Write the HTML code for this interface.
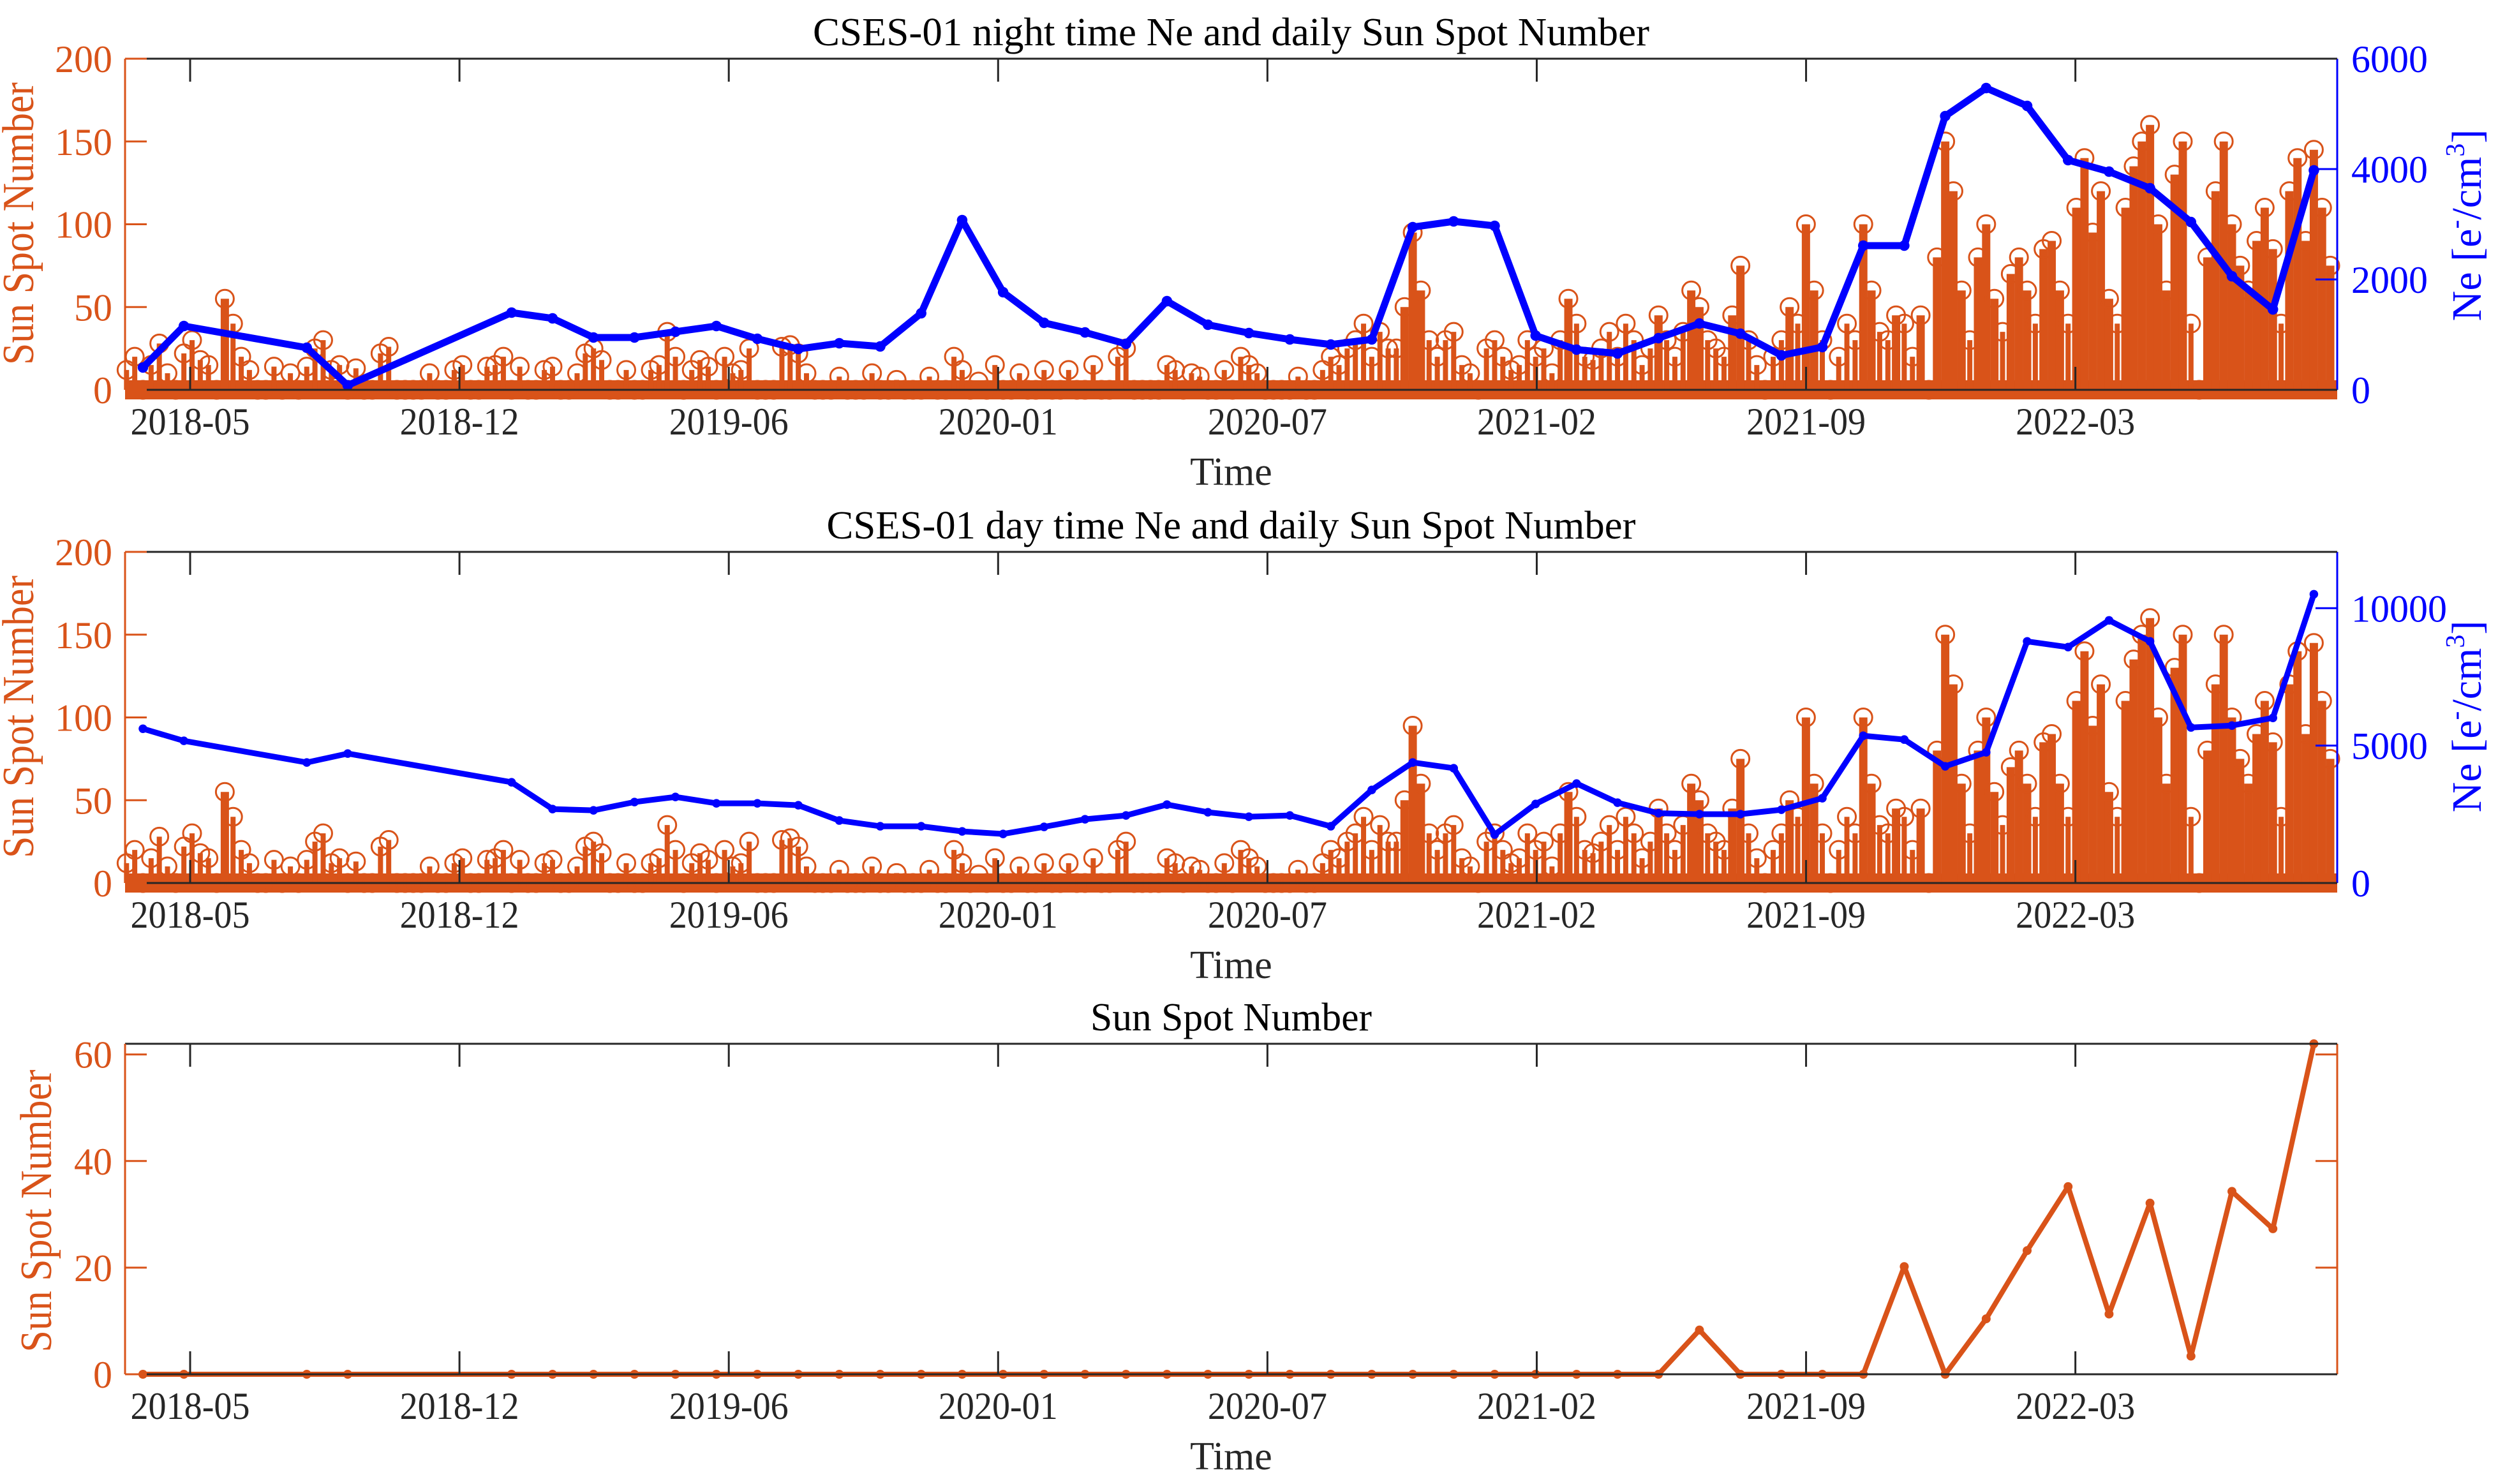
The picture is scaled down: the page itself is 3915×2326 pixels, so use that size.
<!DOCTYPE html>
<html><head><meta charset="utf-8"><title>CSES-01 Ne and Sun Spot Number</title>
<style>
html,body{margin:0;padding:0;background:#fff;}
svg{display:block;font-family:"Liberation Serif","Times New Roman",serif;}
</style></head>
<body>
<svg id="fig" width="3915" height="2326" viewBox="0 0 3915 2326" xmlns="http://www.w3.org/2000/svg"></svg>
<script>
// ---------- data ----------
const tickLabels = ["2018-05","2018-12","2019-06","2020-01","2020-07","2021-02","2021-09","2022-03"];
const tickMonths = [1.153,7.728,14.303,20.878,27.453,34.028,40.603,47.178];
const neMonths = [0,1,4,5,9,10,11,12,13,14,15,16,17,18,19,20,21,22,23,24,25,26,27,28,29,30,31,32,33,34,35,36,37,38,39,40,41,42,43,44,45,46,47,48,49,50,51,52,53];
const neNight = [405,1156,763,81,1399,1295,948,948,1052,1156,925,740,844,786,1387,3075,1769,1214,1040,832,1607,1179,1029,913,821,913,2948,3052,2971,983,728,659,936,1202,1017,624,775,2613,2613,4960,5468,5145,4162,3954,3653,3040,2058,1457,3977];
const neDay = [5614,5174,4385,4710,3666,2691,2645,2946,3132,2900,2900,2830,2274,2065,2065,1879,1786,2042,2320,2459,2854,2575,2413,2459,2065,3387,4385,4176,1763,2877,3619,2923,2540,2506,2506,2668,3086,5359,5220,4246,4756,8793,8584,9558,8793,5661,5730,6009,10510];
const ssnMonthly = [0,0,0,0,0,0,0,0,0,0,0,0,0,0,0,0,0,0,0,0,0,0,0,0,0,0,0,0,0,0,0,0,0,8.3,0,0,0,0,20.2,0,10.4,23.2,35.2,11.3,32.1,3.4,34.3,27.3,62];
const ssnStart = -0.4;
const ssnStep = 0.2;
const ssnDaily = [
12,20,0,15,28, 10,0,22,30,18, 15,0,55,40,20, 12,0,0,14,0, 10,0,14,25,30,
12,15,0,13,0, 0,22,26,0,0, 0,0,10,0,0, 12,15,0,0,14, 15,20,0,14,0,
0,12,14,0,0, 10,22,25,18,0, 0,12,0,0,12, 15,35,20,0,12, 18,14,0,20,10,
12,25,0,0,0, 26,27,22,10,0, 0,0,8,0,0, 0,10,0,0,6, 0,0,0,8,0,
0,20,12,0,5, 0,15,0,0,10, 0,0,12,0,0, 12,0,0,15,0, 0,20,25,0,0,
0,0,15,12,0, 10,8,0,0,12, 0,20,15,10,0, 0,0,0,8,0, 0,12,20,15,25,
30,40,20,35,25, 25,50,95,60,30, 20,30,35,15,10, 0,25,30,20,12, 15,30,20,25,10,
30,55,40,20,18, 25,35,20,40,30, 15,25,45,30,20, 35,60,50,30,25, 20,45,75,30,15,
0,20,30,50,40, 100,60,30,0,20, 40,30,100,60,35, 30,45,40,20,45, 0,80,150,120,60,
30,80,100,55,35, 70,80,60,40,85, 90,60,40,110,140, 95,120,55,40,110, 135,150,160,100,60,
130,150,40,0,80, 120,150,100,75,60, 90,110,85,40,120, 140,90,145,110,75
];

// ---------- layout ----------
const ORANGE="#D95319", BLUE="#0000FF";
const X0=196, X1=3663, M0=-0.436, M1=53.57;
const xs = m => X0 + (m - M0) / (M1 - M0) * (X1 - X0);
const svg = document.getElementById('fig');
const NS="http://www.w3.org/2000/svg";
function mk(tag, attrs, parent){
  const e=document.createElementNS(NS,tag);
  for(const k in attrs) e.setAttribute(k, attrs[k]);
  (parent||svg).appendChild(e); return e;
}
function txt(s, x, y, attrs, parent){
  const t=mk('text', Object.assign({x:x,y:y}, attrs), parent); t.textContent=s; return t;
}

const panels = [
  {id:'night', top:92, bot:611, title:"CSES-01 night time Ne and daily Sun Spot Number", titleLen:1311,
   lmax:200, lticks:[0,50,100,150,200], rmax:6000, rticks:[0,2000,4000,6000], ne:neNight, lw:11, nelabelY:353},
  {id:'day', top:865, bot:1384, title:"CSES-01 day time Ne and daily Sun Spot Number", titleLen:1268,
   lmax:200, lticks:[0,50,100,150,200], rmax:12050, rticks:[0,5000,10000], ne:neDay, lw:9, nelabelY:1123},
  {id:'ssn', top:1636, bot:2154, title:"Sun Spot Number", titleLen:441,
   lmax:62, lticks:[0,20,40,60]}
];

panels.forEach(p=>{
  const g = mk('g', {});
  
  
  const yl = v => p.bot - v/p.lmax*(p.bot-p.top);

  const t = txt(p.title, (X0+X1)/2, p.top-21, {'font-size':62,'text-anchor':'middle',fill:'#000',textLength:p.titleLen,lengthAdjust:'spacingAndGlyphs'}, g);
  
  

  if(p.ne){
    const sg = mk('g', {}, g);
    
    
    // baseline band of zero-value markers
    const band = mk('rect', {x:X0, y:p.bot-15, width:X1-X0, height:30, fill:ORANGE}, sg);
    
    
    ssnDaily.forEach((v,i)=>{
      const m = ssnStart + i*ssnStep;
      const x = xs(m);
      if(v>0){
        const s = mk('line', {x1:x, x2:x, y1:p.bot, y2:yl(v), stroke:ORANGE, 'stroke-width':v>40?13:8}, sg);
        
        
      }
      const c = mk('circle', {cx:x, cy:yl(v), r:14, fill:'none', stroke:ORANGE, 'stroke-width':3}, sg);
      
      
    });
    const yr = v => p.bot - v/p.rmax*(p.bot-p.top);
    const pts = p.ne.map((v,i)=>xs(neMonths[i]).toFixed(1)+','+yr(v).toFixed(1)).join(' ');
    const pl = mk('polyline', {points:pts, fill:'none', stroke:BLUE, 'stroke-width':p.lw, 'stroke-linejoin':'round'}, g);
    
    
    p.ne.forEach((v,i)=>{
      const d = mk('circle', {cx:xs(neMonths[i]), cy:yr(v), r:p.lw*0.75, fill:BLUE}, g);
      
      
    });
    const ra = mk('line', {x1:X1, x2:X1, y1:p.top, y2:p.bot, stroke:BLUE, 'stroke-width':3}, g);
    
    
    p.rticks.forEach(v=>{
      mk('line', {x1:X1-34, x2:X1, y1:yr(v), y2:yr(v), stroke:BLUE, 'stroke-width':3}, g);
      const tl = txt(String(v), X1+22, yr(v)+21, {'font-size':60, fill:BLUE}, g);
      
      
    });
    const nl = mk('text', {transform:'translate(3888,'+p.nelabelY+') rotate(-90)', 'text-anchor':'middle', 'font-size':66, fill:BLUE}, g);
    nl.innerHTML = 'Ne [e<tspan dy="-26" font-size="42">-</tspan><tspan dy="26">/cm</tspan><tspan dy="-26" font-size="42">3</tspan><tspan dy="26">]</tspan>';
    
    
  } else {
    const pts = ssnMonthly.map((v,i)=>xs(neMonths[i]).toFixed(1)+','+yl(v).toFixed(1)).join(' ');
    const pl = mk('polyline', {points:pts, fill:'none', stroke:ORANGE, 'stroke-width':8, 'stroke-linejoin':'round'}, g);
    
    
    ssnMonthly.forEach((v,i)=>{
      const d = mk('circle', {cx:xs(neMonths[i]), cy:yl(v), r:7, fill:ORANGE}, g);
      
      
    });
    const ra = mk('line', {x1:X1, x2:X1, y1:p.top, y2:p.bot, stroke:ORANGE, 'stroke-width':3}, g);
    
    
    p.lticks.forEach(v=>{
      mk('line', {x1:X1-34, x2:X1, y1:yl(v), y2:yl(v), stroke:ORANGE, 'stroke-width':3}, g);
    });
  }

  const tp = mk('line', {x1:X0, x2:X1, y1:p.top, y2:p.top, stroke:'#262626', 'stroke-width':3}, g);
  
  
  const bt = mk('line', {x1:X0, x2:X1, y1:p.bot, y2:p.bot, stroke:'#262626', 'stroke-width':3}, g);
  
  
  tickMonths.forEach((m,i)=>{
    const x = xs(m);
    mk('line', {x1:x, x2:x, y1:p.bot, y2:p.bot-36, stroke:'#262626', 'stroke-width':3}, g);
    mk('line', {x1:x, x2:x, y1:p.top, y2:p.top+36, stroke:'#262626', 'stroke-width':3}, g);
    const tl = txt(tickLabels[i], x, p.bot+70, {'font-size':60, 'text-anchor':'middle', fill:'#262626', textLength:187, lengthAdjust:'spacingAndGlyphs'}, g);
    
    
  });
  const xt = txt('Time', (X0+X1)/2, p.bot+149, {'font-size':62, 'text-anchor':'middle', fill:'#262626'}, g);
  
  

  const la = mk('line', {x1:X0, x2:X0, y1:p.top, y2:p.bot, stroke:ORANGE, 'stroke-width':3}, g);
  
  
  p.lticks.forEach(v=>{
    mk('line', {x1:X0, x2:X0+34, y1:yl(v), y2:yl(v), stroke:ORANGE, 'stroke-width':3}, g);
    const tl = txt(String(v), 176, yl(v)+21, {'font-size':60, 'text-anchor':'end', fill:ORANGE}, g);
    
    
  });
  const lx = p.ne ? 52 : 80;
  const ly = (p.top+p.bot)/2 + (p.ne ? -1 : 3);
  const yt = mk('text', {transform:'translate('+lx+','+ly+') rotate(-90)', 'text-anchor':'middle', 'font-size':70, fill:ORANGE, textLength:443, lengthAdjust:'spacingAndGlyphs'}, g);
  yt.textContent = 'Sun Spot Number';
  
  
});
</script>
</body></html>
